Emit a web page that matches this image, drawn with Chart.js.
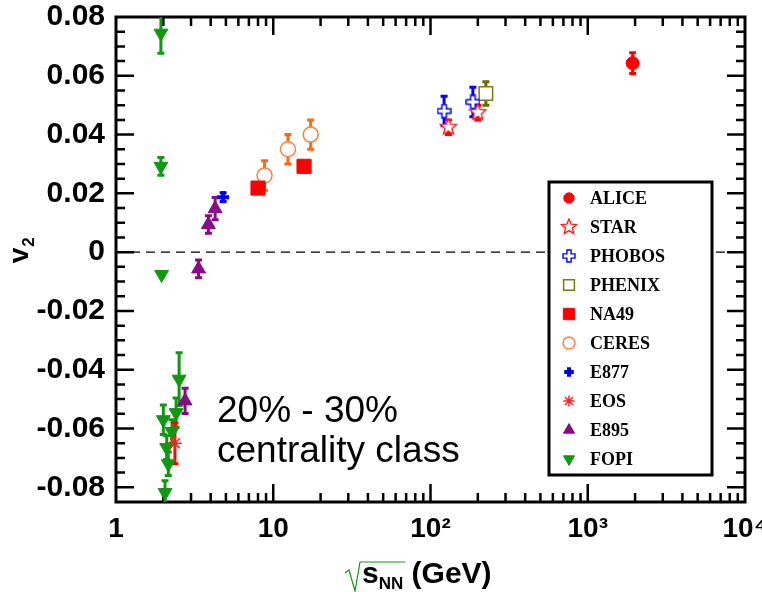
<!DOCTYPE html>
<html>
<head>
<meta charset="utf-8">
<script src="https://cdn.jsdelivr.net/npm/chart.js@4.4.1/dist/chart.umd.min.js"></script>
<style>
  html,body{margin:0;padding:0;background:#fff}
  #wrap{width:762px;height:592px;position:relative}
</style>
</head>
<body>
<div id="wrap"><canvas id="c"></canvas></div>
<script>
// data: sqrt(s_NN) in GeV, v2, +- error
const ALICE_X=[1930],          ALICE_Y=[0.0643],           ALICE_E=[0.0035]
const STAR_X=[130,200],        STAR_Y=[0.0425,0.0475],     STAR_E=[0.0025,0.0025]
const PHOBOS_X=[122,186],      PHOBOS_Y=[0.048,0.0511],    PHOBOS_E=[0.005,0.005]
const PHENIX_X=[225],          PHENIX_Y=[0.054],           PHENIX_E=[0.004]
const NA49_X=[8.0,15.7],       NA49_Y=[0.0218,0.0292],     NA49_E=[0,0]
const CERES_X=[8.8,12.4,17.3], CERES_Y=[0.0261,0.035,0.040], CERES_E=[0.005,0.005,0.005]
const E877_X=[4.8],            E877_Y=[0.0187],            E877_E=[0.0015]
const EOS_X=[2.37],            EOS_Y=[-0.065],             EOS_E=[0.007]
const E895_X=[2.75,3.35,3.87,4.27]
const E895_Y=[-0.0506,-0.0057,0.0094,0.0148]
const E895_E=[0.0043,0.003,0.003,0.0038]
const FOPI_X=[1.93,1.93,1.95,2.0,2.05,2.1,2.15,2.27,2.41,2.52]
const FOPI_Y=[0.0745,0.0292,-0.0076,-0.057,-0.0818,-0.0665,-0.072,-0.061,-0.0546,-0.0432]
const FOPI_E=[0.0068,0.003,0,0.005,0.004,0.004,0.004,0.004,0.005,0.009]
const ZERO_X=[1,10000], ZERO_Y=[0,0]

const X_TICKS=[1,10,100,1000,10000]
const X_LABELS=['1','10','10²','10³','10⁴']
const Y_TICKS=[-0.08,-0.06,-0.04,-0.02,0,0.02,0.04,0.06,0.08]
const Y_LABELS=['-0.08','-0.06','-0.04','-0.02','0','0.02','0.04','0.06','0.08']

const SANS="'Liberation Sans', Arial, Helvetica, sans-serif"
const SERIF="'Liberation Serif', 'Times New Roman', serif"

// little canvases for the open star / open plus markers
function mk(size,draw){const c=document.createElement('canvas');c.width=c.height=size;draw(c.getContext('2d'),size/2);return c}
function openStar(size,col){return mk(size,(g,h)=>{
  g.beginPath()
  for(let i=0;i<10;i++){const r=i%2?(h-1)*0.45:h-1, a=-Math.PI/2+i*Math.PI/5; g.lineTo(h+r*Math.cos(a),h+r*Math.sin(a))}
  g.closePath();g.fillStyle='#fff';g.fill();g.strokeStyle=col;g.lineWidth=1.4;g.stroke()})}
function openPlus(size,col){return mk(size,(g,h)=>{
  const a=h-1,b=h*0.3
  const p=[[-b,-a],[b,-a],[b,-b],[a,-b],[a,b],[b,b],[b,a],[-b,a],[-b,b],[-a,b],[-a,-b],[-b,-b]]
  g.beginPath();p.forEach(([u,v])=>g.lineTo(h+u,h+v));g.closePath()
  g.fillStyle='#fff';g.fill();g.strokeStyle=col;g.lineWidth=1.4;g.stroke()})}

const xy=(xs,ys)=>xs.map((x,i)=>({x,y:ys[i]}))
const ds=(label,xs,ys,err,o)=>Object.assign({label,data:xy(xs,ys),err,showLine:false,pointHoverRadius:o.pointRadius},o)

const datasets=[
  ds('ALICE',ALICE_X,ALICE_Y,ALICE_E,{pointStyle:'circle',pointRadius:6.5,pointBackgroundColor:'#ff0000',pointBorderColor:'#ff0000',pointBorderWidth:1,errColor:'#ff0000'}),
  ds('STAR',STAR_X,STAR_Y,STAR_E,{pointStyle:openStar(19,'#ff2020'),legendStyle:openStar(18,'#ff2020'),pointRadius:9,errColor:'#ff0000'}),
  ds('PHOBOS',PHOBOS_X,PHOBOS_Y,PHOBOS_E,{pointStyle:openPlus(15,'#0000ff'),legendStyle:openPlus(14,'#0000ff'),pointRadius:7,errColor:'#0000ff'}),
  ds('PHENIX',PHENIX_X,PHENIX_Y,PHENIX_E,{pointStyle:'rect',pointRadius:9.5,pointBackgroundColor:'#ffffff',pointBorderColor:'#7a7a10',pointBorderWidth:1.5,errColor:'#6b6b00'}),
  ds('NA49',NA49_X,NA49_Y,NA49_E,{pointStyle:'rect',pointRadius:10,pointBackgroundColor:'#ff0000',pointBorderColor:'#ff0000',pointBorderWidth:1,errColor:'#ff0000'}),
  ds('CERES',CERES_X,CERES_Y,CERES_E,{pointStyle:'circle',pointRadius:7.5,pointBackgroundColor:'#ffffff',pointBorderColor:'#ff7f45',pointBorderWidth:1.5,errColor:'#ff6a10'}),
  ds('E877',E877_X,E877_Y,E877_E,{pointStyle:'cross',pointRadius:6,pointBorderColor:'#0000ff',pointBorderWidth:4,errColor:'#0000ff'}),
  ds('EOS',EOS_X,EOS_Y,EOS_E,{pointStyle:'star',pointRadius:7,pointBorderColor:'#ff2020',pointBorderWidth:1.5,errColor:'#ff0000'}),
  ds('E895',E895_X,E895_Y,E895_E,{pointStyle:'triangle',pointRadius:8,pointBackgroundColor:'#8a0a8a',pointBorderColor:'#8a0a8a',pointBorderWidth:1,errColor:'#8a0a8a'}),
  ds('FOPI',FOPI_X,FOPI_Y,FOPI_E,{pointStyle:'triangle',pointRotation:180,pointRadius:8,pointBackgroundColor:'#109810',pointBorderColor:'#109810',pointBorderWidth:1,errColor:'#109810'}),
  {label:'zero',type:'line',data:xy(ZERO_X,ZERO_Y),borderColor:'#000',borderWidth:1.3,borderDash:[9,6],pointRadius:0,showLine:true,noLegend:true}
]

// error bars with caps, under the markers
const errBars={id:'errBars',beforeDatasetsDraw(ch){
  const {ctx,chartArea:a,scales:{x,y}}=ch
  ctx.save();ctx.beginPath();ctx.rect(a.left,a.top,a.right-a.left,a.bottom-a.top);ctx.clip()
  for(let i=ch.data.datasets.length-1;i>=0;i--){
    const d=ch.data.datasets[i]; if(!d.err) continue
    ctx.strokeStyle=d.errColor;ctx.lineWidth=3
    d.data.forEach((p,j)=>{
      const e=d.err[j]; if(!e) return
      const px=x.getPixelForValue(p.x), y1=y.getPixelForValue(p.y+e), y2=y.getPixelForValue(p.y-e)
      ctx.beginPath();ctx.moveTo(px,y1);ctx.lineTo(px,y2)
      ctx.moveTo(px-3.5,y1);ctx.lineTo(px+3.5,y1);ctx.moveTo(px-3.5,y2);ctx.lineTo(px+3.5,y2);ctx.stroke()
    })
  }
  ctx.restore()
}}

// box frame with inward ticks on all four sides
const frame={id:'frame',beforeDatasetsDraw(ch){
  const {ctx,chartArea:a,scales:{x,y}}=ch
  ctx.save();ctx.strokeStyle='#000';ctx.lineWidth=2.5;ctx.beginPath()
  for(let k=0;k<4;k++)for(let m=1;m<=10;m++){
    const v=m*10**k; if(v<=1||v>=10000) continue
    const px=x.getPixelForValue(v), L=(m===10)?18:9
    ctx.moveTo(px,a.bottom);ctx.lineTo(px,a.bottom-L);ctx.moveTo(px,a.top);ctx.lineTo(px,a.top+L)
  }
  for(let i=-16;i<=15;i++){
    const py=y.getPixelForValue(i*0.005), L=(i%4===0)?18:9
    ctx.moveTo(a.left,py);ctx.lineTo(a.left+L,py);ctx.moveTo(a.right,py);ctx.lineTo(a.right-L,py)
  }
  ctx.stroke()
  ctx.lineWidth=3;ctx.strokeRect(a.left,a.top,a.right-a.left,a.bottom-a.top)
  ctx.restore()
}}

// legend box, axis titles and the centrality note
const extras={id:'extras',afterDraw(ch){
  const ctx=ch.ctx
  ctx.save()
  const bx=549,by=182,bw=163,bh=293
  ctx.fillStyle='#fff';ctx.fillRect(bx,by,bw,bh)
  ctx.strokeStyle='#000';ctx.lineWidth=3;ctx.strokeRect(bx,by,bw,bh)
  let row=0
  ch.data.datasets.forEach(d=>{
    if(d.noLegend) return
    const cy=by+16+row*29; row++
    ctx.fillStyle=d.pointBackgroundColor||'#fff';ctx.strokeStyle=d.pointBorderColor||'#000'
    ctx.lineWidth=d.pointBorderWidth||1
    Chart.helpers.drawPoint(ctx,{pointStyle:d.legendStyle||d.pointStyle,rotation:d.pointRotation||0,
      radius:(d.pointRadius||6)*0.8,borderWidth:d.pointBorderWidth||1},569,cy)
    ctx.fillStyle='#000';ctx.font='bold 18px '+SERIF;ctx.textBaseline='middle';ctx.textAlign='left'
    ctx.fillText(d.label,590,cy+1)
  })
  // centrality note
  ctx.fillStyle='#000';ctx.font='37px '+SANS;ctx.textBaseline='alphabetic';ctx.textAlign='left'
  ctx.fillText('20% - 30%',217,422)
  ctx.fillText('centrality class',217,462)
  // y title v_2
  ctx.save();ctx.translate(28,251);ctx.rotate(-Math.PI/2)
  ctx.font='bold 28px '+SANS;ctx.textAlign='left'
  const vw=ctx.measureText('v').width
  ctx.fillText('v',-(vw+9)/2,0)
  ctx.font='bold 17px '+SANS;ctx.fillText('2',-(vw+9)/2+vw+1,6)
  ctx.restore()
  // x title sqrt(s_NN) (GeV)
  const x0=345,base=586
  ctx.font='bold 30px '+SANS
  const sw=ctx.measureText('s').width
  ctx.font='bold 17px '+SANS
  const nw=ctx.measureText('NN').width
  ctx.lineWidth=1.2;ctx.beginPath()
  ctx.moveTo(x0,573);ctx.lineTo(x0+4,570);ctx.lineTo(x0+10,591);ctx.lineTo(x0+15,562);ctx.lineTo(x0+17+sw+nw+2,562);ctx.stroke()
  ctx.font='bold 30px '+SANS;ctx.fillText('s',x0+17,base-3)
  ctx.font='bold 17px '+SANS;ctx.fillText('NN',x0+17+sw,base+3)
  ctx.font='bold 30px '+SANS;ctx.fillText(' (GeV)',x0+17+sw+nw,base-3)
  ctx.restore()
}}

new Chart(document.getElementById('c'),{
  type:'scatter',
  data:{datasets},
  options:{
    responsive:true,maintainAspectRatio:false,animation:false,
    layout:{padding:{top:17,right:17,bottom:0,left:0}},
    plugins:{legend:{display:false},tooltip:{enabled:false}},
    scales:{
      x:{type:'logarithmic',min:1,max:10000,
        grid:{display:false,drawTicks:false},border:{display:false},
        afterBuildTicks:s=>{s.ticks=X_TICKS.map(v=>({value:v,major:true}))},
        afterFit:s=>{s.height=90;s.paddingLeft=0;s.paddingRight=0},
        ticks:{autoSkip:false,maxRotation:0,padding:10,color:'#000',font:{family:SANS,size:28,weight:'bold'},
          callback:(v)=>X_LABELS[X_TICKS.indexOf(v)]}},
      y:{type:'linear',min:-0.085,max:0.08,
        grid:{display:false,drawTicks:false},border:{display:false},
        afterBuildTicks:s=>{s.ticks=Y_TICKS.map(v=>({value:v}))},
        afterFit:s=>{s.width=116;s.paddingTop=0;s.paddingBottom=0},
        ticks:{autoSkip:false,padding:11,color:'#000',font:{family:SANS,size:30,weight:'bold'},
          callback:(v)=>{const i=Y_TICKS.findIndex(t=>Math.abs(t-v)<1e-9);return i<0?'':Y_LABELS[i]}}}
    }
  },
  plugins:[frame,errBars,extras]
})
</script>
</body>
</html>
